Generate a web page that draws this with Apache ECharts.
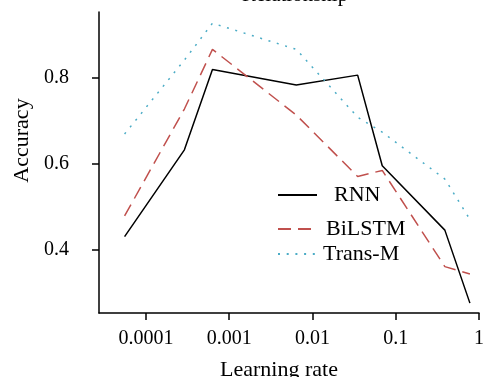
<!DOCTYPE html>
<html>
<head>
<meta charset="utf-8">
<script src="https://cdn.jsdelivr.net/npm/echarts@6/dist/echarts.min.js"></script>
<style>html,body{margin:0;padding:0;background:#fff;}#c{width:489px;height:377px;}</style>
</head>
<body>
<div id="c"></div>
<script>
var learningRates = [0.0000555, 0.00029, 0.00063, 0.0064, 0.0349, 0.0689, 0.389, 0.778];
var rnn = [0.431, 0.633, 0.820, 0.784, 0.807, 0.596, 0.446, 0.276];
var bilstm = [0.479, 0.728, 0.867, 0.714, 0.571, 0.585, 0.361, 0.344];
var transM = [0.670, 0.842, 0.928, 0.867, 0.709, 0.674, 0.565, 0.471];
var seriesNames = ['RNN', 'BiLSTM', 'Trans-M'];
var xTickValues = [0.0001, 0.001, 0.01, 0.1, 1];
var yTickValues = [0.4, 0.6, 0.8];

function pairs(ys) { return learningRates.map(function (x, i) { return [x, ys[i]]; }); }
var FONT = 'Liberation Serif';
var labelStyle = {fontSize: 20, color: '#000', fontFamily: FONT};
var chart = echarts.init(document.getElementById('c'));
function legendItem(name, top, pad) {
  return {
    data: [name], left: 272, top: top, orient: 'horizontal',
    itemWidth: 39, itemHeight: 14, selectedMode: false,
    itemStyle: {opacity: 0},
    textStyle: {fontFamily: FONT, fontSize: 22, color: '#000', padding: [0, 0, 0, pad]}
  };
}
chart.setOption({
  animation: false,
  backgroundColor: '#fff',
  title: {
    text: 'Relationship', left: 237, top: -20,
    textStyle: {fontFamily: FONT, fontSize: 21, fontWeight: 'normal', color: '#000'}
  },
  legend: [
    legendItem(seriesNames[0], 179, 12),
    legendItem(seriesNames[1], 213, 4),
    legendItem(seriesNames[2], 238, 1)
  ],
  grid: {left: 99, right: 10, top: 12, bottom: 64, outerBoundsMode: 'none'},
  xAxis: {
    type: 'log',
    min: Math.pow(10, -4.563), max: 1,
    name: 'Learning rate', nameLocation: 'middle', nameGap: 46,
    nameTextStyle: {fontFamily: FONT, fontSize: 22, color: '#000', padding: [0, 20, 0, 0]},
    axisLine: {show: true, onZero: false, lineStyle: {color: '#000', width: 1.5}},
    axisTick: {show: true, length: 7, lineStyle: {color: '#000', width: 1.5}, customValues: xTickValues},
    axisLabel: Object.assign({margin: 16, showMinLabel: false, textStyle: labelStyle}, labelStyle),
    splitLine: {show: false}
  },
  yAxis: {
    type: 'value', min: 0.253, max: 0.954, splitNumber: 3, minInterval: 0.2, maxInterval: 0.2,
    name: 'Accuracy', nameLocation: 'middle', nameGap: 57, nameRotate: 90,
    nameTextStyle: {fontFamily: FONT, fontSize: 22, color: '#000', padding: [0, 0, 0, 44]},
    axisLine: {show: true, onZero: false, lineStyle: {color: '#000', width: 1.5}},
    axisTick: {show: true, length: 7, lineStyle: {color: '#000', width: 1.5}, customValues: yTickValues},
    axisLabel: Object.assign({margin: 30, showMinLabel: false, showMaxLabel: false, textStyle: labelStyle}, labelStyle),
    splitLine: {show: false}
  },
  series: [
    {name: seriesNames[0], type: 'line', data: pairs(rnn), symbol: 'none', color: '#000',
     lineStyle: {color: '#000', width: 1.5, type: 'solid'}},
    {name: seriesNames[1], type: 'line', data: pairs(bilstm), symbol: 'none', color: '#c0504d',
     lineStyle: {color: '#c0504d', width: 1.5, type: [13, 7]}},
    {name: seriesNames[2], type: 'line', data: pairs(transM), symbol: 'none', color: '#4bacc6',
     lineStyle: {color: '#4bacc6', width: 1.5, type: [2, 6.7]}}
  ]
});
</script>
</body>
</html>
